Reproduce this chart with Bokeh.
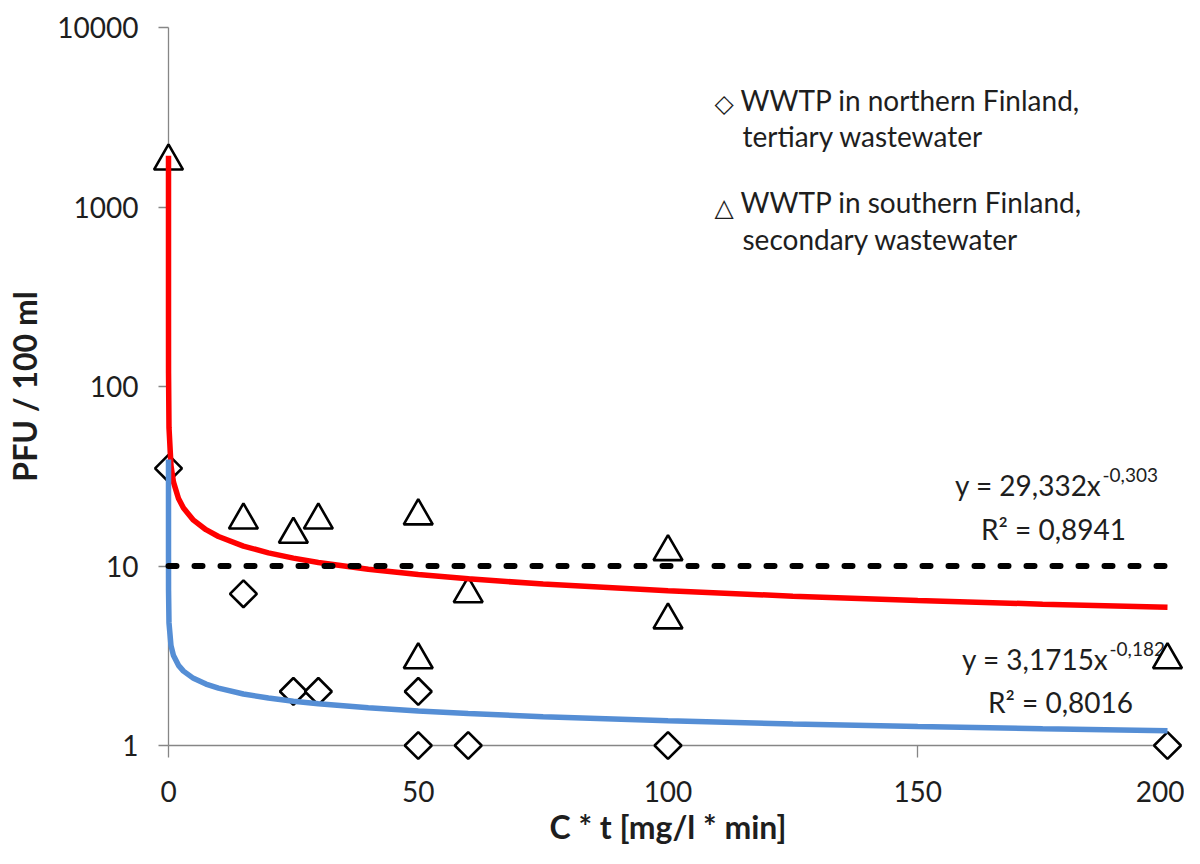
from bokeh.plotting import figure
from bokeh.models import Range1d, FixedTicker, Label
from bokeh.embed import file_html
from bokeh.resources import INLINE
import math

# ---------------- data ----------------
north_x = [0, 15, 25, 30, 50, 50, 60, 100, 200]
north_y = [35, 7, 2, 2, 2, 1, 1, 1, 1]

south_x = [0, 15, 25, 30, 50, 50, 60, 100, 100, 200]
south_y = [1800, 18, 15, 18, 19, 3, 7, 12, 5, 3]

# power trendlines as drawn
trend_x = [0.000001, 0.00001, 0.0001, 0.001, 0.01, 0.1, 0.5, 1, 2, 3, 5, 7.5, 10,
           15, 20, 25, 30, 40, 50, 60, 75, 100, 125, 150, 175, 200]
south_trend_y = [1929, 960, 478, 238, 118.4, 58.9, 36.2, 29.33, 23.78, 21.03, 18.01,
                 15.93, 14.60, 12.91, 11.83, 11.06, 10.47, 9.59, 8.97, 8.48, 7.93,
                 7.27, 6.79, 6.43, 6.13, 5.89]
north_trend_y = [39.2, 25.8, 16.95, 11.15, 7.33, 4.82, 3.60, 3.17, 2.796, 2.597, 2.366,
                 2.198, 2.086, 1.937, 1.839, 1.765, 1.708, 1.621, 1.556, 1.506, 1.446,
                 1.372, 1.317, 1.274, 1.239, 1.209]

limit_x = [0, 200]
limit_y = [10, 10]

x_ticks = [0, 50, 100, 150, 200]
x_tick_labels = ["0", "50", "100", "150", "200"]
y_ticks = [1, 10, 100, 1000, 10000]
y_tick_labels = ["1", "10", "100", "1000", "10000"]

legend_labels = [["WWTP in northern Finland,", "tertiary wastewater"],
                 ["WWTP in southern Finland,", "secondary wastewater"]]
legend_symbols = ["\u25C7", "\u25B3"]

eq_south = ["y = 29,332x", "-0,303", "R\u00B2 = 0,8941"]
eq_north = ["y = 3,1715x", "-0,182", "R\u00B2 = 0,8016"]

x_title = "C * t [mg/l * min]"
y_title = "PFU / 100 ml"

FONT = "Lato"
TXT = "#1e1e1e"
AXC = "#868686"

# ---------------- figure ----------------
p = figure(width=1184, height=848, x_range=Range1d(0, 200), y_range=Range1d(1, 10000),
           y_axis_type="log", output_backend="svg", toolbar_location=None,
           min_border_left=168, min_border_right=17, min_border_top=27, min_border_bottom=101)
p.outline_line_color = None
p.xgrid.visible = False
p.ygrid.visible = False
p.background_fill_color = "white"
p.border_fill_color = "white"

for ax in (p.xaxis[0], p.yaxis[0]):
    ax.axis_line_color = AXC
    ax.axis_line_width = 1.3
    ax.major_tick_line_color = AXC
    ax.major_tick_line_width = 1.3
    ax.minor_tick_line_color = None
    ax.major_tick_in = 0
    ax.major_label_text_font = FONT
    ax.major_label_text_font_size = "28px"
    ax.major_label_text_color = TXT
    ax.axis_label_text_font = FONT
    ax.axis_label_text_font_size = "32px"
    ax.axis_label_text_font_style = "bold"
    ax.axis_label_text_color = TXT

p.xaxis.ticker = FixedTicker(ticks=x_ticks)
p.xaxis.major_label_overrides = dict(zip(x_ticks, x_tick_labels))
p.xaxis.major_tick_out = 12
p.xaxis.major_label_standoff = 23
p.xaxis.axis_label = x_title
p.xaxis.axis_label_standoff = 2

p.yaxis.ticker = FixedTicker(ticks=y_ticks, minor_ticks=[])
p.yaxis.major_label_overrides = dict(zip(y_ticks, y_tick_labels))
p.yaxis.major_tick_out = 10
p.yaxis.major_label_standoff = 20
p.yaxis.axis_label = y_title
p.yaxis.axis_label_standoff = 10

# ---------------- helpers for pixel placement of text ----------------
X0, XPX = 168.0, 999.0 / 200.0
Y0, YPX = 747.0, 180.0
def dx(px):
    return (px - X0) / XPX
def dy(py):
    return 10 ** ((Y0 - py) / YPX)

def add_label(text, px, py, size, align="left", font=FONT, color=TXT):
    p.add_layout(Label(x=dx(px), y=dy(py), text=text, text_font=font,
                       text_font_size=size, text_color=color, text_align=align,
                       text_baseline="alphabetic"))

# legend
add_label(legend_symbols[0], 714, 103, "25px", font="DejaVu Sans")
add_label(legend_labels[0][0], 740, 100, "28px")
add_label(legend_labels[0][1], 742, 136, "28px")
add_label(legend_symbols[1], 714, 207, "25px", font="DejaVu Sans")
add_label(legend_labels[1][0], 740, 202, "28px")
add_label(legend_labels[1][1], 742, 239, "28px")

# trendline equations
add_label(eq_south[0], 1101, 486, "28px", align="right")
add_label(eq_south[1], 1102, 476, "19px")
add_label(eq_south[2], 1053, 530, "28px", align="center")
add_label(eq_north[0], 1108, 660, "28px", align="right")
add_label(eq_north[1], 1109, 650, "19px")
add_label(eq_north[2], 1060, 703, "28px", align="center")

# ---------------- marks ----------------
p.scatter(north_x, north_y, marker="square", angle=math.pi / 4, size=19,
          line_color="black", line_width=2.6, fill_color="white", level="overlay")
p.scatter(south_x, south_y, marker="triangle", size=29,
          line_color="black", line_width=2.6, fill_color="white", level="overlay")

p.line(trend_x, south_trend_y, line_color="#FF0000", line_width=5.5, level="overlay")
p.line(trend_x, north_trend_y, line_color="#558ED5", line_width=5.5, level="overlay")
p.line(limit_x, limit_y, line_color="black", line_width=6, line_dash="8 18",
       line_cap="round", level="overlay")

open("out.html", "w").write(file_html(p, INLINE))
